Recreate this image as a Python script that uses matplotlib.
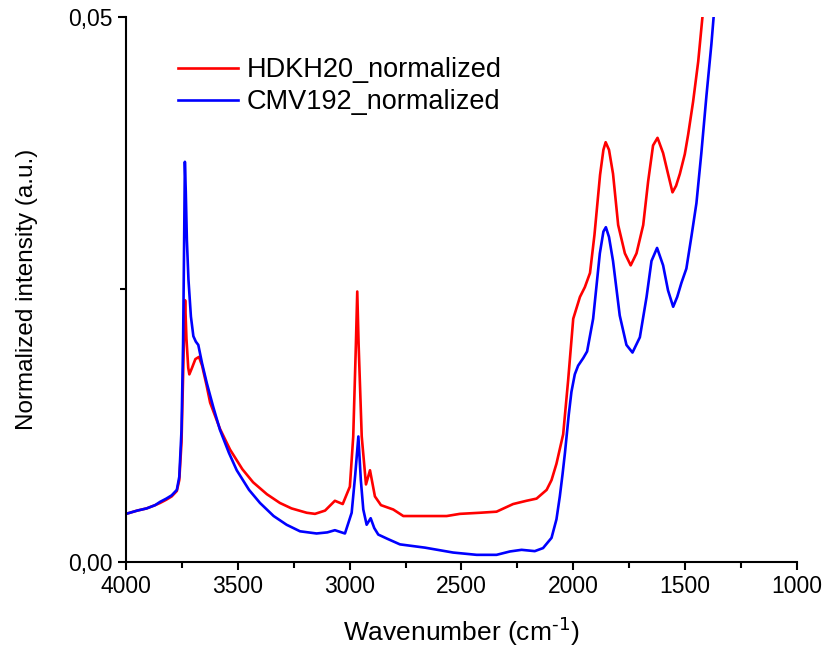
import numpy as np
import matplotlib.pyplot as plt
from matplotlib.ticker import MultipleLocator, FuncFormatter

plt.rcParams['font.family'] = ['Liberation Sans', 'DejaVu Sans']

# wavenumber (cm-1) and intensity
wn_hdkh = [4000, 3950, 3908, 3870, 3848, 3820, 3796, 3773, 3762, 3752, 3745, 3740, 3736,
           3730, 3722, 3717, 3705, 3690, 3674, 3660, 3640, 3624, 3580, 3535, 3480, 3432,
           3370, 3312, 3260, 3192, 3155, 3110, 3066, 3031, 2999, 2984, 2972, 2966, 2960,
           2946, 2927, 2909, 2887, 2860, 2805, 2775, 2760, 2663, 2566, 2507, 2418, 2343,
           2269, 2209, 2164, 2119, 2097, 2075, 2045, 2023, 2000, 1970, 1948, 1925, 1905,
           1880, 1865, 1855, 1840, 1822, 1799, 1769, 1743, 1717, 1687, 1665, 1643, 1623,
           1598, 1576, 1556, 1540, 1523, 1501, 1486, 1464, 1441, 1422, 1410]
y_hdkh = [0.0044, 0.0047, 0.0049, 0.0052, 0.0054, 0.0057, 0.0060, 0.0065, 0.0075, 0.0110,
          0.0170, 0.0215, 0.0240, 0.0205, 0.0178, 0.0172, 0.0178, 0.0186, 0.0188, 0.0180,
          0.0162, 0.0146, 0.0122, 0.0103, 0.0085, 0.0073, 0.0062, 0.0054, 0.0049, 0.0045,
          0.0044, 0.0047, 0.0056, 0.0053, 0.0069, 0.0115, 0.0200, 0.0248, 0.0200, 0.0115,
          0.0071, 0.0084, 0.0060, 0.0052, 0.0048, 0.0044, 0.0042, 0.0042, 0.0042, 0.0044,
          0.0045, 0.0046, 0.0053, 0.0056, 0.0058, 0.0066, 0.0075, 0.0090, 0.0117, 0.0166,
          0.0223, 0.0243, 0.0252, 0.0265, 0.0300, 0.0355, 0.0378, 0.0385, 0.0378, 0.0356,
          0.0309, 0.0283, 0.0272, 0.0283, 0.0309, 0.0349, 0.0382, 0.0389, 0.0375, 0.0356,
          0.0339, 0.0345, 0.0356, 0.0374, 0.0392, 0.0422, 0.0459, 0.0500, 0.0530]

wn_cmv = [4000, 3950, 3908, 3870, 3848, 3820, 3796, 3773, 3762, 3752, 3745, 3740, 3737,
          3733, 3728, 3721, 3710, 3699, 3688, 3677, 3660, 3639, 3610, 3580, 3540, 3505,
          3450, 3401, 3340, 3282, 3222, 3148, 3100, 3066, 3021, 2991, 2975, 2961, 2950,
          2939, 2924, 2906, 2890, 2872, 2830, 2775, 2663, 2537, 2432, 2343, 2283, 2231,
          2172, 2135, 2097, 2075, 2060, 2048, 2037, 2020, 2008, 1993, 1978, 1955, 1938,
          1911, 1881, 1865, 1854, 1840, 1822, 1792, 1762, 1735, 1702, 1672, 1650, 1625,
          1598, 1576, 1553, 1535, 1516, 1494, 1471, 1449, 1427, 1404, 1382, 1372, 1365]
y_cmv = [0.0044, 0.0047, 0.0049, 0.0052, 0.0055, 0.0058, 0.0061, 0.0066, 0.0078, 0.0121,
         0.0200, 0.0300, 0.0367, 0.0340, 0.0295, 0.0259, 0.0225, 0.0207, 0.0202, 0.0199,
         0.0182, 0.0164, 0.0142, 0.0121, 0.0100, 0.0084, 0.0066, 0.0054, 0.0042, 0.0034,
         0.0028, 0.0026, 0.0027, 0.0029, 0.0026, 0.0045, 0.0080, 0.0115, 0.0075, 0.0048,
         0.0034, 0.0040, 0.0031, 0.0025, 0.0021, 0.0016, 0.0013, 0.00085, 0.00064, 0.00064,
         0.00095, 0.0011, 0.00098, 0.00126, 0.0022, 0.0039, 0.0060, 0.0080, 0.0100, 0.0135,
         0.0156, 0.0172, 0.0180, 0.0187, 0.0193, 0.0223, 0.0283, 0.0303, 0.0307, 0.0298,
         0.0276, 0.0226, 0.0199, 0.0192, 0.0206, 0.0243, 0.0276, 0.0288, 0.0272, 0.0249,
         0.0234, 0.0243, 0.0256, 0.0269, 0.0299, 0.0329, 0.0375, 0.0428, 0.0475, 0.0500,
         0.0525]

labels = ['HDKH20_normalized', 'CMV192_normalized']

fig = plt.figure(figsize=(8.24, 6.48), dpi=100)
ax = fig.add_axes([0.153, 0.133, 0.814, 0.841])

ax.plot(wn_hdkh, y_hdkh, color='#ff0000', lw=1.9, label=labels[0])
ax.plot(wn_cmv, y_cmv, color='#0000ff', lw=1.9, label=labels[1])

ax.set_xlim(4000, 1000)
ax.set_ylim(0, 0.05)

ax.spines['top'].set_visible(False)
ax.spines['right'].set_visible(False)
for s in ('left', 'bottom'):
    ax.spines[s].set_linewidth(1.5)

ax.xaxis.set_major_locator(MultipleLocator(500))
ax.xaxis.set_minor_locator(MultipleLocator(250))
ax.yaxis.set_major_locator(MultipleLocator(0.05))
ax.yaxis.set_minor_locator(MultipleLocator(0.025))
ax.yaxis.set_major_formatter(FuncFormatter(lambda v, p: f'{v:.2f}'.replace('.', ',')))
ax.tick_params(which='major', direction='out', length=6, width=1.5, labelsize=16.5)
ax.tick_params(which='minor', direction='out', length=4, width=1.5)

ax.set_xlabel('Wavenumber (cm$^{\\text{-1}}$)', fontsize=19, labelpad=12)
ax.set_ylabel('Normalized intensity (a.u.)', fontsize=17.5, labelpad=22)

ax.legend(loc='upper left', bbox_to_anchor=(0.0775, 0.926), frameon=False, fontsize=19.5,
          borderpad=0, borderaxespad=0, handlelength=2.2, handletextpad=0.33,
          labelspacing=0.22)

fig.savefig('out.png', dpi=100)
